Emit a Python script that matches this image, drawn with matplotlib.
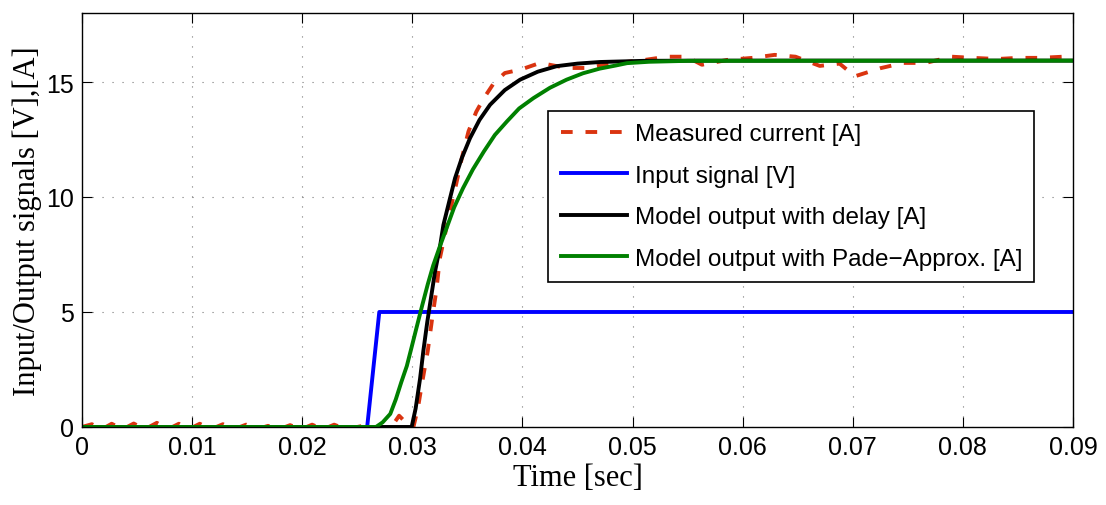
import matplotlib
matplotlib.use("Agg")
import matplotlib.pyplot as plt

# measured current [A]
t_meas = [0.0, 0.0009, 0.0018, 0.0027, 0.0037, 0.0047, 0.0057, 0.0068, 0.0078, 0.0088,
          0.0097, 0.0107, 0.0117, 0.0128, 0.0138, 0.0149, 0.0159, 0.0169, 0.0179, 0.0189,
          0.0199, 0.0209, 0.0219, 0.0229, 0.0240, 0.0255, 0.0270, 0.0281, 0.0288, 0.0296,
          0.0301, 0.0305, 0.0309, 0.0314, 0.0318, 0.0322, 0.0325, 0.0332, 0.0339, 0.0345,
          0.0351, 0.0358, 0.0365, 0.0374, 0.0384, 0.0399, 0.0416,
          0.0440, 0.0460, 0.0473, 0.0490, 0.0511, 0.0531, 0.0549, 0.0563, 0.0586, 0.0609,
          0.0629, 0.0648, 0.0670, 0.0688, 0.0702, 0.0725, 0.0746, 0.0766, 0.0790, 0.0809,
          0.0831, 0.0850, 0.0870, 0.0891, 0.0900]
i_meas = [0.0, 0.12, -0.1, 0.14, -0.1, 0.15, -0.1, 0.18, -0.1, 0.14,
          -0.1, 0.14, -0.1, 0.12, -0.1, 0.10, -0.1, 0.05, -0.1, 0.08,
          -0.1, 0.10, -0.1, 0.10, -0.1, 0.05, -0.05, 0.0, 0.49, 0.1,
          0.0, 0.8, 1.95, 3.3, 4.71, 6.0, 7.33, 8.9, 10.38, 11.7,
          12.85, 13.7, 14.3, 14.95, 15.39, 15.55, 15.83,
          15.61, 15.61, 15.74, 15.85, 15.96, 16.1, 16.1, 15.75, 15.96, 16.05,
          16.18, 16.1, 15.7, 15.8, 15.25, 15.6, 15.83, 15.83, 16.1, 16.05,
          16.0, 16.05, 16.05, 16.1, 16.0]

# input signal [V]
t_in = [0.0, 0.0259, 0.0270, 0.0900]
u_in = [0.0, 0.0, 5.0, 5.0]

# model output with delay [A]
t_delay = [0.0, 0.02994, 0.0303, 0.0307, 0.0310, 0.03136, 0.03206, 0.0325, 0.03282,
           0.0334, 0.03388, 0.0345, 0.03524, 0.0361, 0.03706, 0.0384, 0.03978, 0.0414,
           0.04312, 0.0450, 0.04705, 0.0510, 0.0560, 0.0900]
i_delay = [0.0, 0.0, 0.8, 2.09, 3.3, 4.57, 6.75, 7.8, 8.78,
           9.9, 10.82, 11.7, 12.56, 13.35, 14.01, 14.65, 15.1, 15.45,
           15.69, 15.8, 15.87, 15.92, 15.93, 15.93]

# model output with Pade approximation [A]
t_pade = [0.0, 0.0267, 0.0273, 0.0280, 0.0285, 0.0290, 0.0295, 0.0299, 0.0304, 0.0309,
          0.0314, 0.0319, 0.0325, 0.0331, 0.0338, 0.0346, 0.0355, 0.0365, 0.0375, 0.0386,
          0.0397, 0.0410, 0.0425, 0.0440, 0.0455, 0.0470, 0.0485, 0.0495, 0.0515, 0.0550,
          0.0900]
i_pade = [0.0, 0.0, 0.2, 0.57, 1.2, 1.95, 2.65, 3.4, 4.35, 5.29,
          6.2, 7.03, 7.85, 8.63, 9.55, 10.38, 11.2, 11.98, 12.7, 13.29,
          13.85, 14.3, 14.75, 15.1, 15.38, 15.58, 15.72, 15.82, 15.88, 15.92,
          15.93]

xticks = [0, 0.01, 0.02, 0.03, 0.04, 0.05, 0.06, 0.07, 0.08, 0.09]
xticklabels = ["0", "0.01", "0.02", "0.03", "0.04", "0.05", "0.06", "0.07", "0.08", "0.09"]
yticks = [0, 5, 10, 15]

fig = plt.figure(figsize=(11.06, 5.06), dpi=100)
ax = fig.add_axes([0.0741, 0.1542, 0.8961, 0.8181])

lw = 2.8
ax.plot(t_meas, i_meas, color="#DA3410", lw=lw, linestyle=(0, (3.0, 3.3)),
        label="Measured current [A]")
ax.plot(t_in, u_in, color="#0000FF", lw=lw, label="Input signal [V]")
ax.plot(t_delay, i_delay, color="black", lw=lw, label="Model output with delay [A]")
ax.plot(t_pade, i_pade, color="#008000", lw=lw, label="Model output with Pade\u2212Approx. [A]")

ax.set_xlim(0, 0.09)
ax.set_ylim(0, 18)
ax.set_xticks(xticks)
ax.set_xticklabels(xticklabels)
ax.set_yticks(yticks)

ax.grid(True, color="#777777", lw=0.8, linestyle=(0, (1, 8)))
ax.tick_params(direction="in", length=7, width=0.8, top=True, right=True,
               labelsize=18, pad=6)
for lab in ax.get_xticklabels() + ax.get_yticklabels():
    lab.set_fontfamily("Liberation Sans")
for sp in ax.spines.values():
    sp.set_linewidth(1.0)

ax.set_xlabel("Time [sec]", fontsize=22, fontfamily="Liberation Serif", labelpad=2.5)
ax.set_ylabel("Input/Output signals [V],[A]", fontsize=22, fontfamily="Liberation Serif",
              labelpad=3)

leg = ax.legend(loc="upper right", bbox_to_anchor=(0.961, 0.763), borderaxespad=0,
                prop={"family": "Liberation Sans", "size": 17.5}, handlelength=2.75,
                handletextpad=0.3, labelspacing=0.8, borderpad=0.5,
                fancybox=False, framealpha=1, edgecolor="black")
leg.get_frame().set_linewidth(1.2)

plt.savefig("out.png", dpi=100)
